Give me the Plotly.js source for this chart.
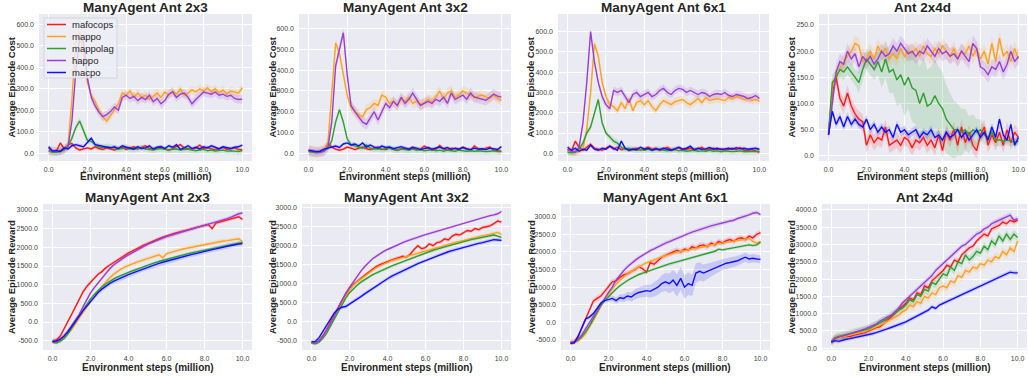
<!DOCTYPE html>
<html>
<head>
<meta charset="utf-8">
<script src="https://cdn.plot.ly/plotly-3.0.1.min.js"></script>
<style>
  html, body { margin: 0; padding: 0; background: #ffffff; }
  #chart { width: 1028px; height: 377px; }
</style>
</head>
<body>
<div id="chart"></div>
<script>
// Training steps (million), shared by every panel
const steps = [0,0.2,0.4,0.6,0.8,1.0,1.2,1.4,1.6,1.8,
  2.0,2.2,2.4,2.6,2.8,3.0,3.2,3.4,3.6,3.8,
  4.0,4.2,4.4,4.6,4.8,5.0,5.2,5.4,5.6,5.8,
  6.0,6.2,6.4,6.6,6.8,7.0,7.2,7.4,7.6,7.8,
  8.0,8.2,8.4,8.6,8.8,9.0,9.2,9.4,9.6,9.8,10.0];

const methods = ['mafocops', 'mappo', 'mappolag', 'happo', 'macpo'];
const methodColors = ['#ff1a1a', '#ffa01e', '#2ca02c', '#9b3fd3', '#1010ff'];

// ---- Average episode cost ----
const cost2x3_mafocops = [25,8,10,48,20,40,45,25,15,20,25,20,30,22,18,25,20,15,22,28,18,25,30,20,28,35,22,18,25,30,20,15,22,30,40,25,20,18,25,38,22,28,20,15,22,28,18,20,25,18,15];
const cost2x3_mappo    = [10,5,8,12,15,40,250,520,560,470,330,270,240,200,170,150,175,200,230,280,270,290,260,280,260,270,250,265,280,260,285,270,290,275,300,270,280,295,285,300,290,305,285,300,280,295,275,290,285,280,305];
const cost2x3_mappolag = [10,5,5,8,15,35,70,120,150,100,60,55,40,30,25,30,28,25,20,22,28,20,18,22,25,20,18,15,20,22,18,15,18,20,15,18,20,15,12,15,18,12,15,10,12,15,10,12,10,8,12];
const cost2x3_happo    = [15,10,8,12,20,30,150,380,540,520,350,260,220,190,170,180,195,215,200,260,270,255,265,245,260,250,270,240,255,230,245,275,285,260,275,280,260,230,250,270,285,280,275,285,270,275,265,270,255,250,252];
const cost2x3_macpo    = [30,10,12,8,25,20,35,40,35,30,50,70,40,35,30,28,25,30,22,35,28,25,20,30,22,25,35,20,28,30,22,35,28,40,18,25,35,22,28,20,30,25,35,28,20,30,25,22,28,30,38];

const cost3x2_mafocops = [12,8,5,5,15,50,30,20,15,20,30,25,18,25,30,22,18,25,30,20,18,25,20,15,22,25,20,30,18,20,35,25,15,20,38,22,15,25,20,18,30,20,15,35,22,18,25,30,15,12,10];
const cost3x2_mappo    = [15,10,5,8,20,50,280,530,480,380,280,220,200,185,175,210,220,240,230,280,270,240,250,230,260,250,270,240,250,235,245,260,250,270,300,260,290,300,270,280,300,290,280,270,275,280,270,265,280,265,255];
const cost3x2_mappolag = [8,5,3,5,10,25,60,150,210,150,70,40,35,30,25,40,25,20,22,18,20,25,18,15,20,18,15,20,15,18,12,15,18,12,15,10,15,12,10,15,12,10,12,10,12,10,8,10,12,8,8];
const cost3x2_happo    = [12,8,5,6,10,30,150,420,500,580,380,230,200,175,150,140,170,200,160,200,240,220,250,230,270,240,260,290,260,230,240,250,240,260,250,270,240,290,260,270,280,260,290,270,265,260,255,270,285,275,270];
const cost3x2_macpo    = [15,10,8,10,20,25,30,35,28,45,50,40,45,35,50,30,40,30,25,35,28,30,22,28,32,25,20,28,25,18,22,28,20,25,30,22,28,18,25,20,28,22,18,25,20,22,18,25,20,18,32];

const cost6x1_mafocops = [15,10,60,30,15,30,45,25,20,15,25,35,20,30,18,25,15,20,25,18,22,30,20,25,15,22,30,18,20,28,15,20,25,18,22,30,15,20,25,18,22,15,20,25,18,28,15,12,18,10,5];
const cost6x1_mappo    = [10,8,5,8,20,120,300,540,480,350,280,240,230,210,250,220,270,210,250,260,240,260,230,210,240,260,250,240,255,260,265,250,240,255,270,250,275,260,265,270,265,260,275,270,280,275,265,270,260,265,258];
const cost6x1_mappolag = [5,3,5,20,50,100,130,200,265,150,100,80,60,50,30,20,25,20,15,18,15,20,15,18,20,15,12,15,18,12,15,10,12,15,10,12,10,15,10,12,8,12,10,8,10,12,8,10,8,10,10];
const cost6x1_happo    = [20,10,8,30,150,350,600,450,350,280,240,220,310,300,310,280,250,290,300,280,290,300,280,290,310,320,300,290,310,320,315,300,310,300,290,300,295,280,290,295,290,300,285,280,290,285,280,270,275,285,270];
const cost6x1_macpo    = [30,15,25,10,20,15,40,20,15,25,20,35,25,15,60,25,15,20,18,30,20,25,15,22,18,25,20,15,22,30,20,25,35,18,25,20,22,28,20,25,18,22,25,20,28,22,25,20,22,25,20];

const cost2x4d_mafocops = [40,120,150,110,95,120,95,80,70,65,20,40,25,35,30,55,20,25,30,20,35,30,15,30,25,35,20,30,15,40,10,45,30,50,20,55,25,45,20,10,40,55,20,40,25,45,20,50,25,45,35];
const cost2x4d_mappo    = [40,130,155,165,180,190,200,215,210,180,185,200,185,210,195,205,185,195,185,205,190,200,195,205,190,210,195,190,205,195,210,200,190,205,185,200,195,210,190,205,185,200,175,215,180,225,190,200,180,205,185];
const cost2x4d_mappolag = [45,140,150,165,160,170,160,150,140,165,185,175,165,180,160,185,160,165,145,155,135,150,130,125,100,120,95,100,115,100,90,70,60,50,50,45,50,40,50,45,50,40,35,45,30,30,28,30,28,26,28];
const cost2x4d_happo    = [40,100,160,180,175,200,185,195,170,190,180,190,175,185,200,190,195,210,200,215,205,195,200,190,200,195,210,200,190,205,195,200,190,195,185,200,190,180,215,205,170,165,155,170,165,180,160,175,200,180,190];
const cost2x4d_macpo    = [40,85,60,75,55,75,60,70,60,55,70,50,60,45,55,45,50,35,60,45,50,40,45,50,35,45,40,50,35,40,30,45,35,40,50,35,45,30,40,50,35,45,30,55,35,70,40,30,60,20,35];

// ---- Average episode reward ----
const rew2x3_mafocops = [-520,-480,-380,-200,0,200,400,600,800,950,1060,1180,1280,1350,1450,1520,1590,1650,1720,1790,1850,1900,1960,2010,2060,2100,2150,2190,2230,2270,2310,2340,2370,2400,2430,2460,2490,2510,2540,2570,2590,2610,2500,2650,2680,2700,2740,2760,2800,2820,2750];
const rew2x3_mappo    = [-530,-540,-500,-420,-320,-200,-60,100,250,400,560,700,830,950,1060,1180,1270,1350,1420,1470,1520,1560,1600,1630,1660,1700,1730,1760,1800,1720,1830,1860,1900,1920,1950,1970,1990,2020,2040,2060,2080,2100,2120,2140,2150,2170,2180,2200,2220,2230,2150];
const rew2x3_mappolag = [-530,-560,-520,-450,-330,-180,-20,150,320,480,620,740,850,940,1020,1090,1150,1200,1250,1290,1330,1370,1410,1450,1490,1530,1560,1590,1620,1650,1680,1710,1740,1770,1790,1810,1840,1860,1880,1900,1930,1950,1970,1990,2010,2030,2050,2070,2090,2110,2130];
const rew2x3_happo    = [-530,-520,-470,-380,-250,-100,50,200,400,600,780,920,1050,1180,1300,1420,1520,1600,1680,1740,1800,1860,1920,1980,2030,2080,2120,2170,2210,2250,2290,2320,2350,2380,2410,2440,2470,2500,2530,2560,2580,2600,2640,2670,2700,2740,2770,2810,2860,2900,2920];
const rew2x3_macpo    = [-520,-510,-460,-380,-270,-140,0,150,300,430,560,680,790,880,960,1030,1090,1140,1180,1230,1270,1310,1350,1390,1430,1470,1500,1540,1570,1600,1630,1660,1690,1710,1740,1770,1790,1820,1840,1870,1890,1920,1940,1960,1990,2010,2030,2050,2080,2090,2100];

const rew3x2_mafocops = [-550,-570,-500,-370,-200,0,200,400,560,720,870,980,1070,1140,1220,1300,1380,1450,1500,1550,1580,1620,1650,1680,1720,1700,1780,1900,2000,1920,1950,2050,2000,2080,2100,2180,2150,2250,2300,2280,2350,2400,2380,2450,2420,2480,2500,2520,2580,2650,2620];
const rew3x2_mappo    = [-560,-580,-520,-400,-240,-60,130,320,500,680,830,950,1050,1120,1200,1280,1350,1420,1470,1520,1560,1600,1630,1660,1690,1720,1740,1770,1800,1830,1860,1890,1920,1950,1980,2010,2040,2060,2090,2110,2140,2160,2190,2210,2240,2260,2280,2300,2330,2350,2300];
const rew3x2_mappolag = [-550,-580,-540,-440,-300,-120,70,260,450,620,760,870,960,1040,1110,1170,1230,1280,1330,1380,1420,1460,1500,1540,1580,1620,1660,1700,1740,1780,1810,1850,1880,1910,1940,1970,2000,2030,2060,2090,2110,2130,2160,2180,2200,2220,2240,2260,2280,2250,2220];
const rew3x2_happo    = [-550,-560,-500,-380,-220,-50,150,350,550,750,900,1050,1200,1330,1450,1560,1650,1720,1790,1850,1900,1950,1990,2040,2080,2120,2160,2190,2220,2260,2290,2320,2360,2390,2420,2450,2480,2510,2540,2570,2600,2630,2660,2690,2720,2740,2770,2790,2810,2840,2900];
const rew3x2_macpo    = [-530,-520,-420,-250,-80,80,230,330,380,400,460,540,600,660,730,800,870,940,1000,1060,1130,1190,1240,1300,1350,1400,1440,1480,1530,1570,1610,1650,1700,1740,1780,1820,1840,1870,1900,1930,1960,1990,2010,2040,2060,2080,2110,2130,2160,2150,2140];

const rew6x1_mafocops = [-560,-550,-400,-150,150,400,600,680,750,880,1000,1150,1180,1280,1350,1380,1450,1500,1580,1520,1420,1700,1650,1750,1850,1900,1950,2000,2050,2000,2080,2050,2150,2100,2180,2200,2150,2250,2200,2300,2250,2320,2350,2300,2380,2400,2350,2450,2400,2500,2550];
const rew6x1_mappo    = [-570,-580,-530,-440,-320,-150,50,250,450,650,800,950,1080,1200,1300,1380,1450,1520,1580,1640,1690,1740,1780,1820,1860,1900,1930,1960,1990,2010,2040,2060,2080,2100,2130,2150,2170,2200,2220,2240,2260,2280,2300,2320,2340,2350,2370,2380,2300,2250,2300];
const rew6x1_mappolag = [-570,-560,-500,-400,-260,-100,100,300,480,620,740,850,950,1040,1120,1190,1250,1310,1360,1400,1440,1480,1520,1560,1590,1630,1660,1690,1720,1750,1780,1810,1840,1870,1900,1930,1960,1990,2020,2080,2060,2080,2100,2120,2140,2160,2180,2200,2180,2200,2280];
const rew6x1_happo    = [-580,-560,-480,-350,-180,0,180,350,520,680,850,1000,1200,1350,1470,1580,1680,1760,1840,1910,1980,2040,2090,2150,2200,2250,2290,2340,2390,2430,2480,2520,2560,2600,2640,2680,2700,2740,2770,2790,2820,2850,2880,2900,2950,2980,3000,3050,3100,3120,3060];
const rew6x1_macpo    = [-600,-580,-400,-150,100,150,250,400,550,620,650,680,620,700,680,750,720,800,850,880,900,880,950,1000,1100,1150,1100,1200,1050,1250,1000,1100,1050,1400,1450,1400,1450,1500,1550,1600,1650,1680,1700,1720,1750,1800,1850,1800,1820,1800,1790];

const rew2x4d_mafocops = [180,300,330,320,350,340,380,400,430,450,500,550,600,620,700,800,900,1000,1100,1200,1300,1450,1400,1600,1550,1800,1750,1950,2050,2150,2250,2400,2350,2550,2500,2700,2800,2900,2950,3100,3200,3300,3250,3450,3500,3550,3650,3600,3700,3650,3700];
const rew2x4d_mappo    = [180,260,300,330,350,370,400,430,460,480,520,560,600,660,720,780,850,900,950,1050,1100,1250,1200,1350,1300,1500,1450,1600,1550,1750,1800,1750,1950,1900,2100,2050,2250,2200,2350,2300,2450,2400,2550,2500,2650,2600,2800,2700,2900,2800,3100];
const rew2x4d_mappolag = [180,300,340,360,380,420,450,480,500,520,560,620,680,720,780,850,950,1000,1100,1150,1250,1400,1350,1550,1500,1700,1650,1900,1850,2000,2150,2100,2350,2250,2500,2450,2700,2550,2650,2800,2750,2950,2850,3100,3000,3250,3100,3300,3150,3300,3200];
const rew2x4d_happo    = [180,280,320,350,380,420,450,480,520,560,600,650,700,780,850,900,950,1050,1150,1300,1400,1500,1600,1700,1800,1900,2000,2100,2250,2350,2450,2550,2650,2750,2850,2950,3000,3100,3200,3300,3350,3450,3500,3600,3650,3700,3750,3800,3850,3700,3750];
const rew2x4d_macpo    = [180,220,200,240,260,280,300,330,360,380,400,420,450,480,520,560,600,640,680,700,760,820,880,940,1000,1050,1100,1200,1150,1250,1300,1350,1400,1450,1500,1550,1600,1650,1700,1750,1800,1850,1900,1950,2000,2050,2100,2150,2200,2180,2180];

// Spread of the shaded band around each mean (one value per method, or a per-step list)
const spread2x4d_mappolag = [10,15,15,15,15,15,15,15,20,20,20,20,20,25,30,35,40,45,50,55,60,60,65,65,70,70,70,70,70,70,70,65,60,55,50,45,40,35,30,25,20,18,15,15,12,12,10,10,10,8,8];
const spread6x1_macpo = [30,30,40,50,60,60,60,60,60,60,70,80,90,100,110,120,130,140,150,160,170,180,200,220,240,260,280,300,320,330,330,320,300,280,260,240,220,200,180,170,160,150,150,140,140,130,130,120,120,110,110];

const xTicks = [0, 2, 4, 6, 8, 10];
const costTicks = [0, 100, 200, 300, 400, 500, 600];
const cost2x4dTicks = [0, 50, 100, 150, 200, 250];
const rewardTicks = [-500, 0, 500, 1000, 1500, 2000, 2500, 3000];
const reward2x4dTicks = [0, 500, 1000, 1500, 2000, 2500, 3000, 3500, 4000];

const W = 1028, H = 377;
const FONT = '"Liberation Sans", Arial, "DejaVu Sans", sans-serif';

// Pixel placement of each subplot: xpx/ypx = plot-area edges, ytx = y-title centre,
// tty = title centre, xty = x-title centre
const panels = [
  { title: 'ManyAgent Ant 2x3', ylabel: 'Average Episode Cost',
    series: [cost2x3_mafocops, cost2x3_mappo, cost2x3_mappolag, cost2x3_happo, cost2x3_macpo],
    spread: [8, 20, 15, 20, 8], xpx: [39, 252], ypx: [14, 161], xr: [-0.5, 10.5], yr: [-36, 648], yt: costTicks, ytx: 11, tty: 7.5, xty: 176 },
  { title: 'ManyAgent Ant 3x2', ylabel: 'Average Episode Cost',
    series: [cost3x2_mafocops, cost3x2_mappo, cost3x2_mappolag, cost3x2_happo, cost3x2_macpo],
    spread: [8, 25, 15, 25, 8], xpx: [299, 511], ypx: [14, 161], xr: [-0.5, 10.5], yr: [-37, 670], yt: costTicks, ytx: 272, tty: 7.5, xty: 176 },
  { title: 'ManyAgent Ant 6x1', ylabel: 'Average Episode Cost',
    series: [cost6x1_mafocops, cost6x1_mappo, cost6x1_mappolag, cost6x1_happo, cost6x1_macpo],
    spread: [10, 20, 15, 20, 8], xpx: [558, 769], ypx: [14, 161], xr: [-0.5, 10.5], yr: [-38, 687], yt: costTicks, ytx: 530, tty: 7.5, xty: 176 },
  { title: 'Ant 2x4d', ylabel: 'Average Episode Cost',
    series: [cost2x4d_mafocops, cost2x4d_mappo, cost2x4d_mappolag, cost2x4d_happo, cost2x4d_macpo],
    spread: [15, 15, spread2x4d_mappolag, 15, 8], xpx: [819, 1027], ypx: [14, 161], xr: [-0.5, 10.45], yr: [-10, 271], yt: cost2x4dTicks, ytx: 791, tty: 7.5, xty: 176 },
  { title: 'ManyAgent Ant 2x3', ylabel: 'Average Episode Reward',
    series: [rew2x3_mafocops, rew2x3_mappo, rew2x3_mappolag, rew2x3_happo, rew2x3_macpo],
    spread: [50, 60, 40, 50, 70], xpx: [43, 252], ypx: [204, 350], xr: [-0.5, 10.5], yr: [-749, 3161], yt: rewardTicks, ytx: 11, tty: 197.5, xty: 367.5 },
  { title: 'ManyAgent Ant 3x2', ylabel: 'Average Episode Reward',
    series: [rew3x2_mafocops, rew3x2_mappo, rew3x2_mappolag, rew3x2_happo, rew3x2_macpo],
    spread: [50, 40, 40, 40, 50], xpx: [302, 511], ypx: [204, 350], xr: [-0.5, 10.5], yr: [-745, 3097], yt: rewardTicks, ytx: 272, tty: 197.5, xty: 367.5 },
  { title: 'ManyAgent Ant 6x1', ylabel: 'Average Episode Reward',
    series: [rew6x1_mafocops, rew6x1_mappo, rew6x1_mappolag, rew6x1_happo, rew6x1_macpo],
    spread: [80, 50, 40, 60, spread6x1_macpo], xpx: [561, 770], ypx: [204, 350], xr: [-0.5, 10.5], yr: [-784, 3361], yt: rewardTicks, ytx: 531, tty: 197.5, xty: 367.5 },
  { title: 'Ant 2x4d', ylabel: 'Average Episode Reward',
    series: [rew2x4d_mafocops, rew2x4d_mappo, rew2x4d_mappolag, rew2x4d_happo, rew2x4d_macpo],
    spread: [80, 120, 120, 80, 60], xpx: [822, 1027], ypx: [204, 350], xr: [-0.5, 10.5], yr: [-50, 4170], yt: reward2x4dTicks, ytx: 791, tty: 197.5, xty: 367.5 }
];

function rgba(hex, a) {
  const n = parseInt(hex.slice(1), 16);
  return 'rgba(' + ((n >> 16) & 255) + ',' + ((n >> 8) & 255) + ',' + (n & 255) + ',' + a + ')';
}
function px(xp) { return xp / W; }
function py(yp) { return 1 - yp / H; }

const traces = [];
const annotations = [];
const shapes = [];
const layout = {
  width: W, height: H,
  margin: { l: 0, r: 0, t: 0, b: 0 },
  paper_bgcolor: '#ffffff',
  plot_bgcolor: '#eaeaf2',
  font: { family: FONT, color: '#262626' },
  showlegend: false,
  annotations: annotations,
  shapes: shapes
};

panels.forEach(function (p, k) {
  const suf = k === 0 ? '' : String(k + 1);
  const xa = 'x' + suf, ya = 'y' + suf;
  const x0 = px(p.xpx[0]), x1 = px(p.xpx[1]);
  const yTop = py(p.ypx[0]), yBot = py(p.ypx[1]);

  layout['xaxis' + suf] = {
    domain: [x0, x1], range: p.xr, anchor: ya, fixedrange: true,
    tickmode: 'array', tickvals: xTicks, ticktext: xTicks.map(function (v) { return v.toFixed(1); }),
    showgrid: true, gridcolor: '#ffffff', gridwidth: 1, zeroline: false, showline: false, ticks: '',
    ticklabelstandoff: 3,
    tickfont: { family: FONT, size: 7, color: '#444444' }
  };
  layout['yaxis' + suf] = {
    domain: [yBot, yTop], range: p.yr, anchor: xa, fixedrange: true,
    tickmode: 'array', tickvals: p.yt, ticktext: p.yt.map(function (v) { return v.toFixed(1); }),
    showgrid: true, gridcolor: '#ffffff', gridwidth: 1, zeroline: false, showline: false, ticks: '',
    ticklabelstandoff: 4,
    tickfont: { family: FONT, size: 7, color: '#444444' }
  };

  // shaded spread bands first, then the mean curves on top
  p.series.forEach(function (ys, m) {
    const w = p.spread[m];
    const up = ys.map(function (v, i) { return v + (Array.isArray(w) ? w[i] : w); });
    const lo = ys.map(function (v, i) { return v - (Array.isArray(w) ? w[i] : w); });
    traces.push({
      type: 'scatter', mode: 'lines', xaxis: xa, yaxis: ya,
      x: steps.concat(steps.slice().reverse()), y: up.concat(lo.slice().reverse()),
      fill: 'toself', fillcolor: rgba(methodColors[m], 0.16), line: { width: 0 },
      hoverinfo: 'skip'
    });
  });
  p.series.forEach(function (ys, m) {
    traces.push({
      type: 'scatter', mode: 'lines', xaxis: xa, yaxis: ya,
      x: steps, y: ys, name: methods[m],
      line: { color: methodColors[m], width: 1.4 }
    });
  });

  annotations.push({
    xref: 'paper', yref: 'paper', x: (x0 + x1) / 2, y: py(p.tty), xanchor: 'center', yanchor: 'middle',
    showarrow: false, text: '<b>' + p.title + '</b>',
    font: { family: FONT, size: 13.5, color: '#262626' }
  });
  annotations.push({
    xref: 'paper', yref: 'paper', x: (x0 + x1) / 2, y: py(p.xty), xanchor: 'center', yanchor: 'middle',
    showarrow: false, text: '<b>Environment steps (million)</b>',
    font: { family: FONT, size: 10, color: '#262626' }
  });
  annotations.push({
    xref: 'paper', yref: 'paper', x: px(p.ytx), y: (yTop + yBot) / 2, xanchor: 'center', yanchor: 'middle',
    textangle: -90, showarrow: false, text: '<b>' + p.ylabel + '</b>',
    font: { family: FONT, size: 9.5, color: '#262626' }
  });
});

// Legend box inside the first panel
const legendBox = { left: 44, right: 117, top: 18, bottom: 78, firstRow: 24.5, rowGap: 12 };
shapes.push({
  type: 'rect', xref: 'paper', yref: 'paper', layer: 'above',
  x0: px(legendBox.left), x1: px(legendBox.right), y0: py(legendBox.bottom), y1: py(legendBox.top),
  fillcolor: 'rgba(238,238,245,0.82)', line: { color: '#cfcfd6', width: 0.8 }
});
methods.forEach(function (name, m) {
  const yRow = legendBox.firstRow + m * legendBox.rowGap;
  shapes.push({
    type: 'line', xref: 'paper', yref: 'paper', layer: 'above',
    x0: px(47), x1: px(66), y0: py(yRow), y1: py(yRow),
    line: { color: methodColors[m], width: 1.5 }
  });
  annotations.push({
    xref: 'paper', yref: 'paper', x: px(70), y: py(yRow), xanchor: 'left', yanchor: 'middle',
    showarrow: false, text: name, font: { family: FONT, size: 9.5, color: '#262626' }
  });
});

Plotly.newPlot('chart', traces, layout, { displayModeBar: false, staticPlot: true });
</script>
</body>
</html>
